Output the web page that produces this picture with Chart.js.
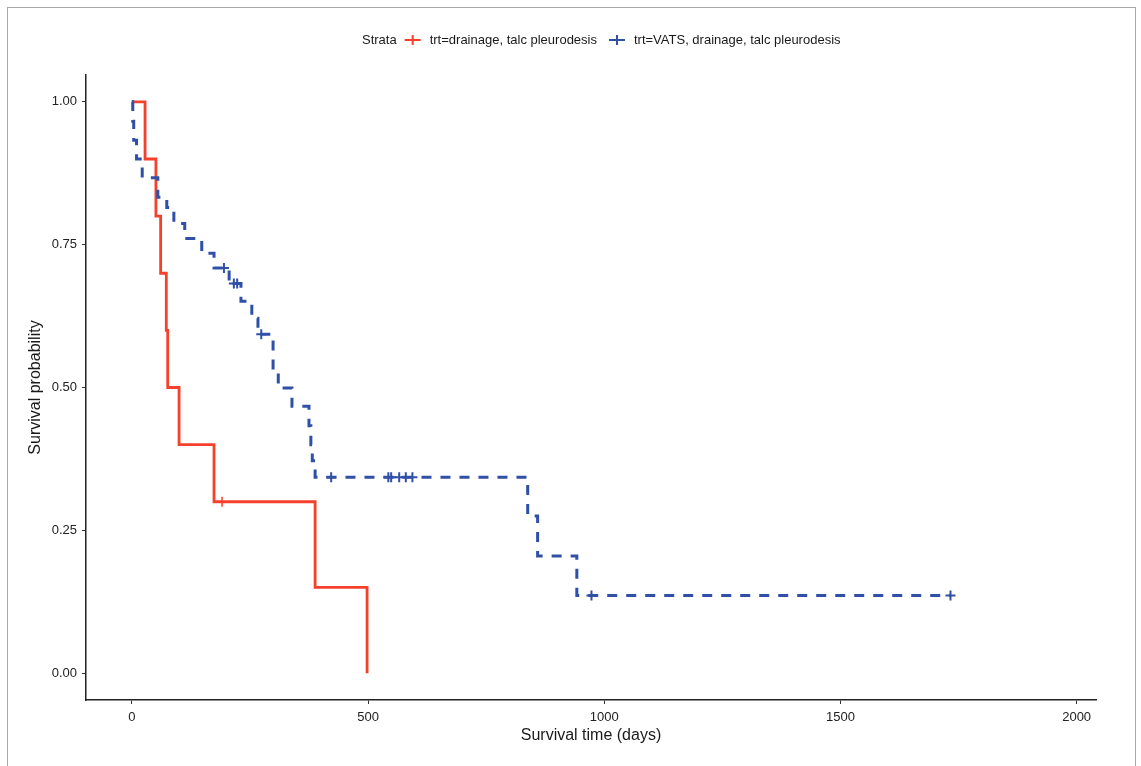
<!DOCTYPE html>
<html lang="en">

<head>
    <meta charset="UTF-8">
    <title>Survival curves by treatment</title>
    <script src="https://cdn.jsdelivr.net/npm/chart.js@4.4.1/dist/chart.umd.min.js"></script>
    <style>
        body {
            margin: 0;
            background: #ffffff;
            font-family: "Liberation Sans", Arial, sans-serif;
        }

        .wrap {
            position: relative;
            width: 1141px;
            height: 766px;
            overflow: hidden;
        }

        .frame {
            position: absolute;
            left: 7px;
            top: 7px;
            width: 1127px;
            height: 800px;
            border: 1px solid #a8a8a8;
            pointer-events: none;
        }

        canvas {
            position: absolute;
            left: 0;
            top: 0;
        }
    </style>
</head>

<body>
    <div class="wrap">
        <canvas id="km" width="1141" height="766"></canvas>
        <div class="frame"></div>
    </div>

    <script>
        // Kaplan-Meier estimates
        const drainTimes = [0, 28, 51, 61, 73, 76, 100, 174, 388, 498];
        const drainSurv = [1.0, 0.9, 0.8, 0.7, 0.6, 0.5, 0.4, 0.3, 0.15, 0.0];
        const drainCensorTimes = [191];
        const drainCensorSurv = [0.3];

        const vatsTimes = [0, 2, 4, 10, 22, 55, 74, 89, 112, 148, 174, 206, 231, 254, 267, 299, 310, 339, 375, 379, 382, 388, 838, 859, 942, 1733];
        const vatsSurv = [1.0, 0.966, 0.933, 0.9, 0.867, 0.833, 0.815, 0.787, 0.761, 0.735, 0.709, 0.682, 0.651, 0.621, 0.593, 0.530, 0.499, 0.467, 0.433, 0.400, 0.372, 0.343, 0.275, 0.205, 0.136, 0.136];
        const vatsCensorTimes = [195, 216, 223, 274, 422, 543, 549, 566, 580, 594, 973, 1733];
        const vatsCensorSurv = [0.709, 0.682, 0.682, 0.593, 0.343, 0.343, 0.343, 0.343, 0.343, 0.343, 0.136, 0.136];

        const xTicks = [0, 500, 1000, 1500, 2000];
        const yTicks = [0, 0.25, 0.5, 0.75, 1.0];
        const strataLabels = ['trt=drainage, talc pleurodesis', 'trt=VATS, drainage, talc pleurodesis'];

        const RED = '#f5402c';
        const BLUE = '#3050a8';
        const FONT = '"Liberation Sans", Arial, sans-serif';

        function pts(xs, ys) {
            return xs.map((x, i) => ({ x: x, y: ys[i] }));
        }

        // legend drawn by hand so "Strata" sits inline like ggplot
        const strataLegend = {
            id: 'strataLegend',
            afterDraw(chart) {
                const ctx = chart.ctx;
                const y = 40;
                ctx.save();
                ctx.font = '13px ' + FONT;
                ctx.textBaseline = 'middle';
                ctx.fillStyle = '#1a1a1a';
                let x = 362;
                ctx.fillText('Strata', x, y);
                x += ctx.measureText('Strata').width + 8;
                const cols = [RED, BLUE];
                strataLabels.forEach((lab, i) => {
                    ctx.strokeStyle = cols[i];
                    ctx.lineWidth = 2;
                    ctx.beginPath();
                    ctx.moveTo(x, y);
                    ctx.lineTo(x + 16, y);
                    ctx.moveTo(x + 8, y - 5);
                    ctx.lineTo(x + 8, y + 5);
                    ctx.stroke();
                    x += 25;
                    ctx.fillText(lab, x, y);
                    x += ctx.measureText(lab).width + 12;
                });
                ctx.restore();
            }
        };

        const ctx = document.getElementById('km').getContext('2d');
        const kmChart = new Chart(ctx, {
            type: 'scatter',
            data: {
                datasets: [
                    {
                        label: strataLabels[0],
                        data: pts(drainTimes, drainSurv),
                        showLine: true,
                        stepped: 'before',
                        borderColor: RED,
                        borderWidth: 2.8,
                        pointRadius: 0,
                        order: 2
                    },
                    {
                        label: 'censor1',
                        data: pts(drainCensorTimes, drainCensorSurv),
                        pointStyle: 'cross',
                        pointRadius: 5,
                        borderColor: RED,
                        borderWidth: 1.5,
                        order: 2
                    },
                    {
                        label: strataLabels[1],
                        data: pts(vatsTimes, vatsSurv),
                        showLine: true,
                        stepped: 'before',
                        borderColor: BLUE,
                        borderWidth: 3,
                        borderDash: [10, 9],
                        pointRadius: 0,
                        order: 1
                    },
                    {
                        label: 'censor2',
                        data: pts(vatsCensorTimes, vatsCensorSurv),
                        pointStyle: 'cross',
                        pointRadius: 5,
                        borderColor: BLUE,
                        borderWidth: 2,
                        order: 1
                    }
                ]
            },
            options: {
                responsive: false,
                animation: false,
                layout: {
                    padding: { left: 20, right: 45, top: 75, bottom: 20 }
                },
                plugins: {
                    legend: { display: false },
                    tooltip: { enabled: false }
                },
                scales: {
                    x: {
                        type: 'linear',
                        min: -97,
                        max: 2041,
                        afterBuildTicks: (s) => { s.ticks = xTicks.map(v => ({ value: v })); },
                        afterFit: (s) => { s.height = 46; },
                        grid: { drawOnChartArea: false, tickLength: 4, color: '#333', lineWidth: 1 },
                        border: { display: true, color: '#222', width: 1.5 },
                        ticks: {
                            padding: 6,
                            color: '#222',
                            font: { family: FONT, size: 13 },
                            callback: (v) => String(v)
                        },
                        title: {
                            display: true,
                            text: 'Survival time (days)',
                            color: '#1a1a1a',
                            font: { family: FONT, size: 16 },
                            padding: { top: 2, bottom: 1 }
                        }
                    },
                    y: {
                        min: -0.047,
                        max: 1.047,
                        afterBuildTicks: (s) => { s.ticks = yTicks.map(v => ({ value: v })); },
                        afterFit: (s) => { s.width = 66; },
                        grid: { drawOnChartArea: false, tickLength: 4, color: '#333', lineWidth: 1 },
                        border: { display: true, color: '#222', width: 1.5 },
                        ticks: {
                            padding: 5,
                            color: '#222',
                            font: { family: FONT, size: 13 },
                            callback: (v) => v.toFixed(2)
                        },
                        title: {
                            display: true,
                            text: 'Survival probability',
                            color: '#1a1a1a',
                            font: { family: FONT, size: 16 },
                            padding: { top: 6, bottom: 0 }
                        }
                    }
                }
            },
            plugins: [strataLegend]
        });
    </script>
</body>

</html>
